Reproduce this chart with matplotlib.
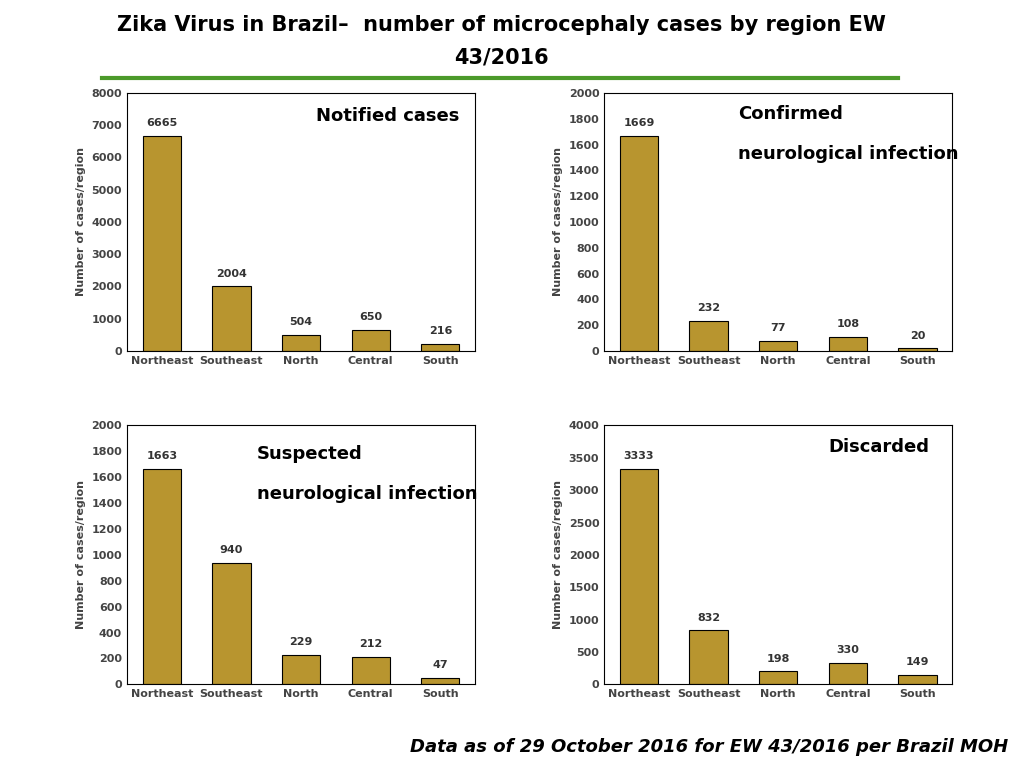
import matplotlib
matplotlib.use("Agg")
import matplotlib.pyplot as plt
from matplotlib.lines import Line2D

regions = ["Northeast", "Southeast", "North", "Central", "South"]
notified = [6665, 2004, 504, 650, 216]
confirmed = [1669, 232, 77, 108, 20]
suspected = [1663, 940, 229, 212, 47]
discarded = [3333, 832, 198, 330, 149]

fig = plt.figure(figsize=(10.24, 7.68), dpi=100)
color = "#B8952F"

panels = [
    (notified, [0.124, 0.543, 0.340, 0.336], 8000, 1000, [("Notified cases", 0.75, 0.91, "center")]),
    (confirmed, [0.590, 0.543, 0.340, 0.336], 2000, 200, [("Confirmed", 0.385, 0.92, "left"), ("neurological infection", 0.385, 0.765, "left")]),
    (suspected, [0.124, 0.109, 0.340, 0.337], 2000, 200, [("Suspected", 0.374, 0.89, "left"), ("neurological infection", 0.374, 0.735, "left")]),
    (discarded, [0.590, 0.109, 0.340, 0.337], 4000, 500, [("Discarded", 0.79, 0.915, "center")]),
]

for vals, rect, ymax, step, labels in panels:
    ax = fig.add_axes(rect)
    bars = ax.bar(regions, vals, width=0.55, color=color, edgecolor="black", linewidth=0.8)
    ax.set_ylim(0, ymax)
    ax.set_yticks(range(0, ymax + 1, step))
    ax.set_xlim(-0.5, 4.5)
    for b, v in zip(bars, vals):
        ax.text(b.get_x() + b.get_width() / 2, v + ymax * 0.03, str(v), ha="center", va="bottom",
                fontsize=8, fontweight="bold", color="#333333")
    ax.set_ylabel("Number of cases/region", fontsize=8, fontweight="bold", color="#444444")
    ax.tick_params(axis="both", labelsize=8, length=0, colors="#444444")
    for t in ax.get_xticklabels() + ax.get_yticklabels():
        t.set_fontweight("bold")
    for s in ax.spines.values():
        s.set_linewidth(0.8)
    for txt, x, y, ha in labels:
        ax.text(x, y, txt, transform=ax.transAxes, ha=ha, va="center", fontsize=13, fontweight="bold")

fig.text(0.49, 0.967, "Zika Virus in Brazil\u2013  number of microcephaly cases by region EW", ha="center",
         va="center", fontsize=15, fontweight="bold")
fig.text(0.49, 0.925, "43/2016", ha="center", va="center", fontsize=15, fontweight="bold")
fig.add_artist(Line2D([0.100, 0.877], [0.899, 0.899], color="#4C9A2A", linewidth=3, transform=fig.transFigure))
fig.text(0.985, 0.027, "Data as of 29 October 2016 for EW 43/2016 per Brazil MOH", ha="right", va="center",
         fontsize=13, fontweight="bold", style="italic")

fig.savefig("out.png", dpi=100)
